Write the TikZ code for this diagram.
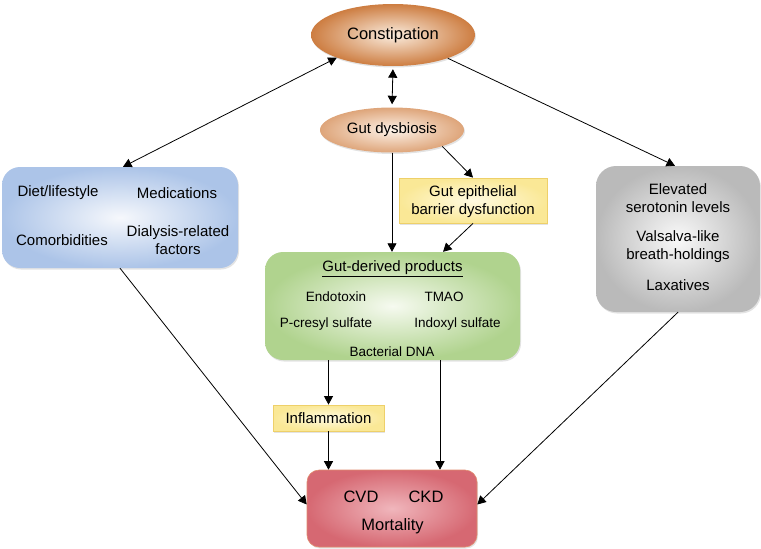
\documentclass[tikz,border=0pt]{standalone}
\usepackage{fontspec}
\setmainfont{Liberation Sans}
\usetikzlibrary{shapes.geometric,arrows.meta,shadows,calc}
\definecolor{cOut}{RGB}{205,125,65}
\definecolor{cIn}{RGB}{250,236,222}
\definecolor{dOut}{RGB}{222,165,122}
\definecolor{dIn}{RGB}{253,242,232}
\definecolor{yOut}{RGB}{250,232,150}
\definecolor{yIn}{RGB}{255,250,225}
\definecolor{yBd}{RGB}{238,208,105}
\definecolor{bOut}{RGB}{172,196,232}
\definecolor{bIn}{RGB}{246,248,252}
\definecolor{gOut}{RGB}{176,211,142}
\definecolor{gIn}{RGB}{246,250,240}
\definecolor{hOut}{RGB}{186,186,186}
\definecolor{hIn}{RGB}{249,249,249}
\definecolor{rOut}{RGB}{214,104,114}
\definecolor{rIn}{RGB}{240,182,188}
\definecolor{rBd}{RGB}{225,140,110}
\tikzset{
  shad/.style={drop shadow={shadow xshift=1pt,shadow yshift=-1.5pt,opacity=0.22}},
  ellnode/.style={ellipse,inner sep=0pt,shading=radial,shad},
  bigbox/.style={rectangle,inner sep=0pt,shading=radial,shad},
  ybox/.style={rectangle,inner sep=0pt,shading=radial,inner color=yIn,outer color=yOut,draw=yBd,line width=0.8pt,shad},
  lbl/.style={inner sep=0pt,font=\fontsize{15}{18}\selectfont,align=center},
  sml/.style={inner sep=0pt,font=\fontsize{13.5}{16}\selectfont,align=center},
  arr/.style={-{Triangle[length=8.5pt,width=9pt]},line width=0.8pt,black},
  dbl/.style={{Triangle[length=8.5pt,width=9pt]}-{Triangle[length=8.5pt,width=9pt]},line width=0.8pt,black},
}
\begin{document}
\begin{tikzpicture}[x=1pt,y=-1pt]
\useasboundingbox (0,0) rectangle (761,549);
% main nodes
\node[ellnode,inner color=cIn,outer color=cOut,minimum width=164,minimum height=62,font=\fontsize{16.5}{19}\selectfont] (constip) at (393,35) {Constipation};
\node[ellnode,inner color=dIn,outer color=dOut,minimum width=144,minimum height=45,font=\fontsize{15}{18}\selectfont] (dysb) at (392,130) {Gut dysbiosis};
\node[ybox,minimum width=148,minimum height=45] (epi) at (473,200.5) {};
\node[lbl] (epit) at (473,202) {Gut epithelial\\barrier dysfunction};
\node[bigbox,rounded corners=18pt,inner color=bIn,outer color=bOut,minimum width=236,minimum height=101] (left) at (120,217.5) {};
\node[bigbox,rounded corners=18pt,inner color=gIn,outer color=gOut,minimum width=255,minimum height=108] (green) at (392.5,306) {};
\node[bigbox,rounded corners=20pt,inner color=hIn,outer color=hOut,minimum width=164,minimum height=146] (grey) at (678,239) {};
\node[bigbox,rounded corners=12pt,inner color=rIn,outer color=rOut,draw=rBd,line width=0.6pt,minimum width=170,minimum height=77] (red) at (392,508.5) {};
\node[ybox,minimum width=111,minimum height=26] (infl) at (328.5,418) {};
\node[lbl] (inflt) at (328.5,418) {Inflammation};
% left box texts
\node[lbl] (diet) at (58,193) {Diet/lifestyle};
\node[lbl] (medi) at (177,193) {Medications};
\node[lbl] (comor) at (62,240) {Comorbidities};
\node[lbl] (dial) at (178,240.5) {Dialysis-related\\factors};
% green box texts
\node[lbl] (gdp) at (392.5,268.5) {\underline{Gut-derived products}};
\node[sml] (endo) at (336,297) {Endotoxin};
\node[sml] (tmao) at (444,297) {TMAO};
\node[sml] (pcs) at (326,324.5) {P-cresyl sulfate};
\node[sml] (ixs) at (457.5,324.5) {Indoxyl sulfate};
\node[sml] (bdna) at (392,352) {Bacterial DNA};
% grey box texts
\node[lbl] (sero) at (678,198.5) {Elevated\\serotonin levels};
\node[lbl] (valsa) at (678,246.5) {Valsalva-like\\breath-holdings};
\node[lbl] (laxa) at (678,285) {Laxatives};
% red box texts
\node[lbl,font=\fontsize{16.5}{19}\selectfont] (cvd) at (361,497) {CVD};
\node[lbl,font=\fontsize{16.5}{19}\selectfont] (ckd) at (426,497) {CKD};
\node[lbl,font=\fontsize{16.5}{19}\selectfont] (mort) at (392.5,526) {Mortality};
% connectors
\draw[dbl] (constip.202) -- ([xshift=3pt]left.north);
\draw[arr] (constip.337) -- ([xshift=-3pt]grey.north);
\draw[dbl,shorten <=3pt,shorten >=3pt] (constip.south) -- (dysb.north);
\draw[arr] (dysb.south) -- (dysb.south |- green.north);
\draw[arr] (dysb.342) -- (epi.north);
\draw[arr] (epi.south) -- ([xshift=50.5pt]green.north);
\draw[arr] (green.south -| infl.north) -- (infl.north);
\draw[arr] (infl.south) -- (infl.south |- red.north);
\draw[arr] ([xshift=47.5pt]green.south) -- ([xshift=47.5pt]green.south |- red.north);
\draw[arr] (left.south) -- ([yshift=4pt]red.west);
\draw[arr] (grey.south) -- ([yshift=4pt]red.east);
\end{tikzpicture}
\end{document}
